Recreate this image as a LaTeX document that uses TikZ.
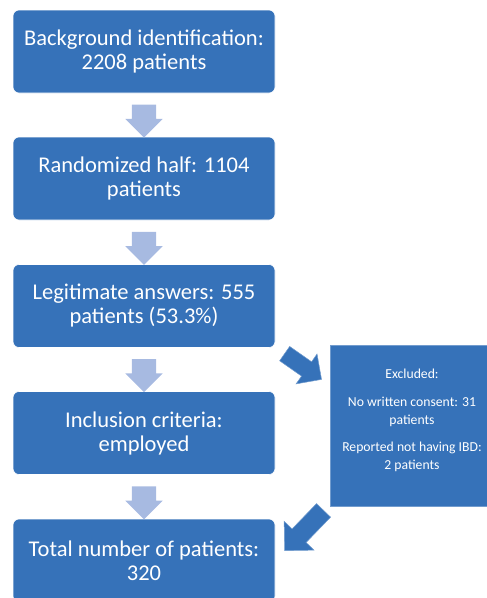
\documentclass[tikz,border=0pt]{standalone}
\usepackage{fontspec}
\setmainfont{Carlito}
\usepackage{tikz}
\usetikzlibrary{calc,positioning,shapes.arrows}
\definecolor{boxblue}{RGB}{54,114,185}
\definecolor{arrowblue}{RGB}{167,186,225}
\begin{document}
\begin{tikzpicture}[yscale=-1, x=1pt, y=1pt,
  stepbox/.style={draw=white, line width=0.6pt, fill=boxblue, rounded corners=6pt,
    minimum width=262pt, minimum height=83pt, align=center, text=white,
    font=\fontsize{22.5}{24}\selectfont},
  downarrow/.style={single arrow, fill=arrowblue, inner xsep=0pt, inner ysep=12pt,
    minimum width=37pt, single arrow head extend=6.5pt, minimum height=33pt, rotate=-90},
  bigarrow/.style={single arrow, fill=boxblue, draw=boxblue!70!white, line width=0.5pt,
    inner xsep=0pt}]
\clip (0,0) rectangle (487,598);
\node[stepbox] (BG) at (144,51.5) {Background identification:\\2208 patients};
\node[stepbox] (RAND) at (144,178.5) {Randomized half: 1104\\patients};
\node[stepbox] (LEGIT) at (144,306) {Legitimate answers: 555\\patients (53.3\%)};
\node[stepbox] (INCL) at (144,433) {Inclusion criteria:\\employed};
\node[stepbox] (TOTAL) at (144,560.5) {Total number of patients:\\320};
\node[draw=boxblue!70!white, line width=0.6pt, fill=boxblue, minimum width=164pt,
  minimum height=161pt] (EXCL) at (412,425.5) {};
\node[below=24pt of EXCL.north, inner sep=0pt, text=white, align=center,
  font=\fontsize{13.7}{18}\selectfont] (EXCLTEXT)
  {Excluded:\\[10pt]No written consent: 31\\patients\\[9pt]Reported not having IBD:\\2 patients};
% arrows between the steps
\node[downarrow] (A1) at ($(BG.south)!0.5!(RAND.north)$) {};
\node[downarrow] (A2) at ($(RAND.south)!0.5!(LEGIT.north)$) {};
\node[downarrow] (A3) at ($(LEGIT.south)!0.5!(INCL.north)$) {};
\node[downarrow] (A4) at ($(INCL.south)!0.5!(TOTAL.north)$) {};
% arrows to and from the excluded box
\node[bigarrow, inner ysep=8.5pt, minimum width=36pt, single arrow head extend=9.5pt,
  minimum height=45pt, rotate=-35] (OUT) at (299.5,364) {};
\node[bigarrow, inner ysep=9.5pt, minimum width=41pt, single arrow head extend=11pt,
  minimum height=56pt, rotate=-134] (BACK) at (307.5,527) {};
\end{tikzpicture}
\end{document}
